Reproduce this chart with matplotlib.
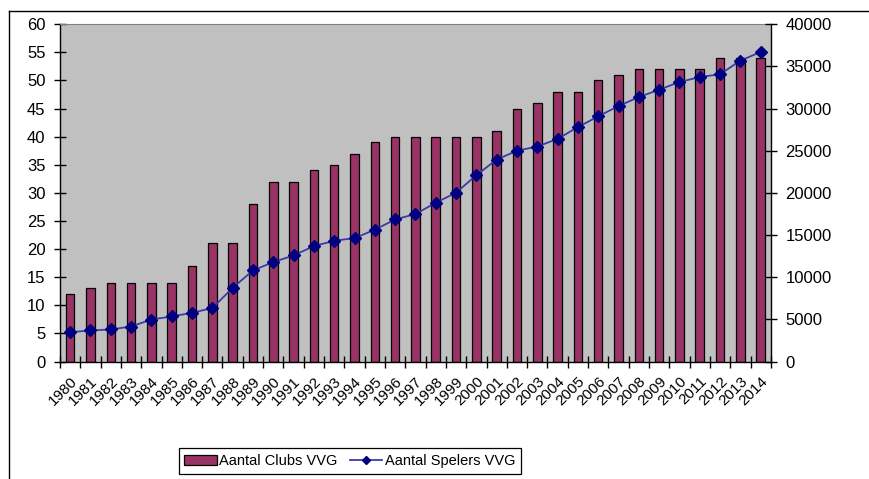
import numpy as np
import matplotlib
matplotlib.use("Agg")
import matplotlib.pyplot as plt
from matplotlib.lines import Line2D

# datos
anios = [str(a) for a in range(1980, 2015)]
clubs = [12, 13, 14, 14, 14, 14, 17, 21, 21, 28, 32, 32, 34, 35, 37, 39, 40, 40,
         40, 40, 40, 41, 45, 46, 48, 48, 50, 51, 52, 52, 52, 52, 54, 54, 54]
spelers = [3480, 3680, 3800, 4150, 4980, 5340, 5780, 6330, 8740, 10800, 11790,
           12580, 13690, 14320, 14640, 15630, 16850, 17490, 18830, 20020, 22100,
           23950, 25000, 25500, 26400, 27800, 29080, 30300, 31370, 32240, 33150,
           33740, 34070, 35690, 36710]

plt.rcParams['font.family'] = ['Liberation Sans', 'DejaVu Sans']

fig = plt.figure(figsize=(8.7, 4.79), dpi=100)
ax = fig.add_axes([0.069, 0.2453, 0.817, 0.704])
ax.set_facecolor('#c0c0c0')

x = np.arange(len(anios))
barras = ax.bar(x, clubs, width=0.42, color='#993366', edgecolor='black',
                linewidth=0.9, label='Aantal Clubs VVG')
ax.set_xlim(-0.5, len(anios) - 0.5)
ax.set_ylim(0, 60)
ax.set_yticks(np.arange(0, 61, 5))

# ticks del eje x en los bordes de cada categoria
ax.set_xticks(x)
ax.set_xticklabels(anios, rotation=45, ha='right', rotation_mode='anchor', fontsize=11)
ax.set_xticks(np.arange(-0.5, len(anios)), minor=True)
ax.tick_params(axis='x', which='major', length=0, pad=9)
ax.tick_params(axis='x', which='minor', direction='inout', length=8, width=1)
ax.tick_params(axis='y', direction='inout', length=9, width=1, labelsize=12, pad=6)

ax.spines['top'].set_color('#808080')
ax.spines['right'].set_visible(False)

# segundo eje para los jugadores
ax2 = ax.twinx()
linea, = ax2.plot(x, spelers, color='#3b3ba6', linewidth=1.3, marker='D',
                  markersize=6, markerfacecolor='#000080', markeredgecolor='#000080',
                  label='Aantal Spelers VVG')
ax2.set_ylim(0, 40000)
ax2.set_yticks(np.arange(0, 40001, 5000))
ax2.tick_params(axis='y', direction='inout', length=9, width=1, labelsize=12, pad=6)
ax2.spines['top'].set_visible(False)
ax2.spines['left'].set_visible(False)
ax2.spines['bottom'].set_visible(False)

for s in ['left', 'bottom']:
    ax.spines[s].set_linewidth(1)
ax2.spines['right'].set_linewidth(1)

leg = fig.legend([barras, linea], ['Aantal Clubs VVG', 'Aantal Spelers VVG'],
                 loc='center', bbox_to_anchor=(0.402, 0.0376), ncol=2,
                 fancybox=False, edgecolor='black', framealpha=1, fontsize=10.5,
                 handlelength=2.2, columnspacing=0.8, handletextpad=0.2,
                 borderpad=0.4)
leg.get_frame().set_linewidth(0.9)
leg.legend_handles[1].set_markersize(4)

# borde del area del grafico (recortado)
fig.add_artist(Line2D([0.0103, 1], [0.977, 0.977], color='black', linewidth=1))
fig.add_artist(Line2D([0.0103, 0.0103], [0, 0.977], color='black', linewidth=1))

fig.savefig('out.png', dpi=100)
